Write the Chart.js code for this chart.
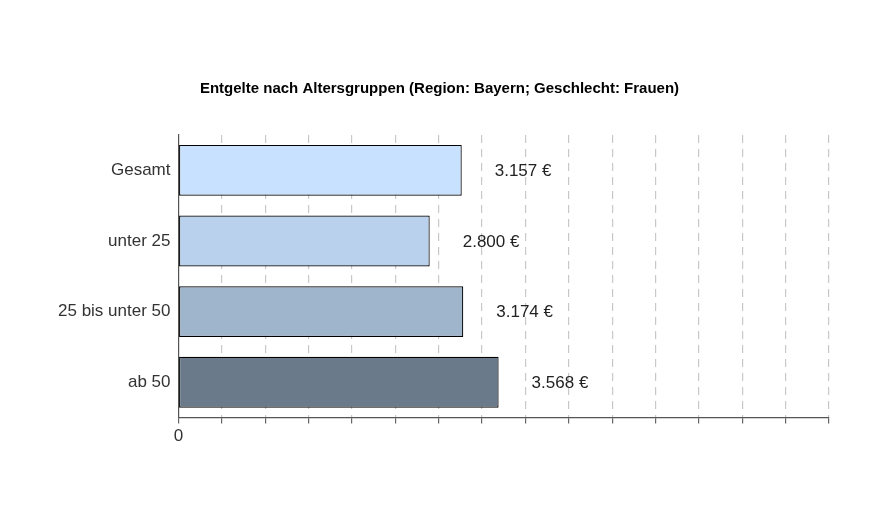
<!DOCTYPE html>
<html>
<head>
<meta charset="utf-8">
<script src="https://cdn.jsdelivr.net/npm/chart.js@4"></script>
<style>
  html, body { margin: 0; background: #fff; }
  #wrap { width: 891px; height: 520px; }
</style>
</head>
<body>
<div id="wrap"><canvas id="chart"></canvas></div>
<script>
const categories = ["Gesamt", "unter 25", "25 bis unter 50", "ab 50"];
const values = [3157, 2800, 3174, 3568];
const barColors = ["#c7e1ff", "#b9d1ed", "#9fb5cc", "#6b7a8b"];

const fmt = (v)=>v.toLocaleString("de-DE") + " €";

const valueLabels = {
    id: "valueLabels",
    afterDatasetsDraw(chart){
        let ctx = chart.ctx;
        let meta = chart.getDatasetMeta(0);
        ctx.save();
        ctx.font = "17px 'Liberation Sans', Arial, sans-serif";
        ctx.fillStyle = "#222";
        ctx.textBaseline = "middle";
        meta.data.forEach((bar, i)=>{
            ctx.fillText(fmt(values[i]), bar.x + 33, bar.y + 1);
        });
        ctx.restore();
    }
};

new Chart(document.getElementById("chart"), {
    type: "bar",
    data: {
        labels: categories,
        datasets: [{
            data: values,
            backgroundColor: barColors,
            borderColor: "#000",
            borderWidth: 1.2,
            borderSkipped: false,
            categoryPercentage: 0.72,
            barPercentage: 1,
        }],
    },
    plugins: [valueLabels],
    options: {
        indexAxis: "y",
        responsive: true,
        maintainAspectRatio: false,
        animation: false,
        layout: { padding: { top: 20, right: 62, bottom: 70, left: 50 } },
        plugins: {
            legend: { display: false },
            tooltip: { enabled: false },
            title: {
                display: true,
                text: "Entgelte nach Altersgruppen (Region: Bayern; Geschlecht: Frauen)",
                color: "#000",
                font: { size: 15, weight: "bold", family: "'Liberation Sans', Arial, sans-serif" },
                padding: { top: 60, bottom: 37 },
            },
        },
        scales: {
            x: {
                min: 0,
                max: 7250,
                ticks: {
                    stepSize: 500,
                    color: "#333",
                    font: { size: 17, family: "'Liberation Sans', Arial, sans-serif" },
                    autoSkip: false,
                    maxRotation: 0,
                    callback: (v)=>(Math.round(v) % 1000 === 0 ? String(Math.round(v)) : ""),
                },
                grid: {
                    color: (c)=>(c.tick && c.tick.value === 0 ? "rgba(0,0,0,0)" : "#c8c8c8"),
                    tickColor: "#666",
                    tickLength: 6,
                    lineWidth: 1.2,
                },
                border: { color: "#555", width: 1.2, dash: [8, 6] },
            },
            y: {
                ticks: {
                    color: "#333",
                    font: { size: 17, family: "'Liberation Sans', Arial, sans-serif" },
                    padding: 8,
                },
                grid: { display: false, drawTicks: false },
                border: { color: "#555", width: 1.2 },
            },
        },
    },
});
</script>
</body>
</html>
